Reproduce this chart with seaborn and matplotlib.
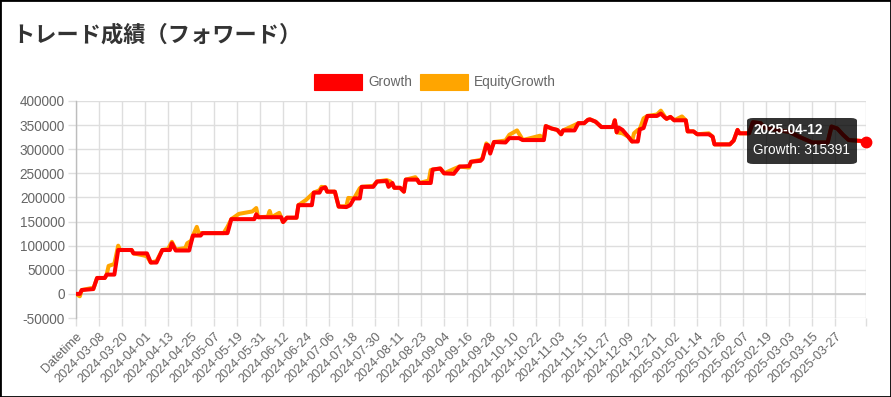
import numpy as np
import pandas as pd
import matplotlib
matplotlib.use("Agg")
import matplotlib.pyplot as plt
import seaborn as sns
from matplotlib.patches import Rectangle, FancyBboxPatch

# ---------------- data ----------------
title = "トレード成績（フォワード）"
series_names = ["Growth", "EquityGrowth"]
series_colors = ["#FF0000", "#FFA500"]

first_label = "Datetime"
day_labels = pd.date_range("2024-02-26", "2025-04-12").strftime("%Y-%m-%d").tolist()
categories = [first_label] + day_labels

growth_dates = [
    "Datetime", "2024-02-27", "2024-02-28", "2024-03-05", "2024-03-07", "2024-03-11",
    "2024-03-12", "2024-03-16", "2024-03-18", "2024-03-25", "2024-03-26", "2024-04-02",
    "2024-04-04", "2024-04-07", "2024-04-10", "2024-04-14", "2024-04-15", "2024-04-17",
    "2024-04-24", "2024-04-26", "2024-04-30", "2024-05-01", "2024-05-14", "2024-05-16",
    "2024-05-28", "2024-05-29", "2024-05-30", "2024-06-11", "2024-06-12", "2024-06-14",
    "2024-06-19", "2024-06-20", "2024-06-27", "2024-06-28", "2024-07-01", "2024-07-02",
    "2024-07-04", "2024-07-05", "2024-07-09", "2024-07-11", "2024-07-15", "2024-07-17",
    "2024-07-19", "2024-07-22", "2024-07-23", "2024-07-29", "2024-07-31", "2024-08-05",
    "2024-08-06", "2024-08-08", "2024-08-09", "2024-08-12", "2024-08-14", "2024-08-15",
    "2024-08-21", "2024-08-22", "2024-08-28", "2024-08-29", "2024-09-02", "2024-09-04",
    "2024-09-09", "2024-09-12", "2024-09-17", "2024-09-18", "2024-09-23", "2024-09-24",
    "2024-09-26", "2024-09-27", "2024-09-28", "2024-09-30", "2024-10-06", "2024-10-08",
    "2024-10-13", "2024-10-15", "2024-10-26", "2024-10-27", "2024-10-30", "2024-11-02",
    "2024-11-04", "2024-11-05", "2024-11-11", "2024-11-13", "2024-11-16", "2024-11-18",
    "2024-11-19", "2024-11-22", "2024-11-25", "2024-12-01", "2024-12-02", "2024-12-03",
    "2024-12-04", "2024-12-06", "2024-12-09", "2024-12-11", "2024-12-14", "2024-12-15",
    "2024-12-17", "2024-12-19", "2024-12-24", "2024-12-26", "2024-12-28", "2024-12-29",
    "2024-12-31", "2025-01-02", "2025-01-08", "2025-01-09", "2025-01-12", "2025-01-14",
    "2025-01-20", "2025-01-22", "2025-01-23", "2025-01-31", "2025-02-02", "2025-02-04",
    "2025-02-05", "2025-02-10", "2025-02-12", "2025-02-16", "2025-02-18", "2025-02-24",
    "2025-03-03", "2025-03-08", "2025-03-15", "2025-03-23", "2025-03-25", "2025-03-28",
    "2025-03-31", "2025-04-03", "2025-04-10", "2025-04-12",
]
growth_values = [
    0, 0, 8000, 10000, 33000, 33000,
    40000, 40000, 91000, 91000, 84000, 84000,
    65000, 65000, 91000, 91000, 105000, 90000,
    90000, 121000, 121000, 126000, 126000, 155000,
    155000, 165000, 159000, 159000, 149000, 158000,
    158000, 184000, 184000, 210000, 210000, 218000,
    221000, 212000, 212000, 181000, 180000, 184000,
    198000, 198000, 222000, 222000, 233000, 234000,
    222000, 230000, 220000, 220000, 212000, 237000,
    237000, 230000, 230000, 258000, 260000, 250000,
    249000, 264000, 265000, 274000, 276000, 280000,
    309000, 308000, 291000, 315000, 314000, 323000,
    323000, 319000, 319000, 348000, 343000, 340000,
    331000, 339000, 339000, 354000, 354000, 361000,
    362000, 357000, 346000, 346000, 360000, 335000,
    345000, 340000, 326000, 316000, 316000, 341000,
    344000, 369000, 369000, 374000, 366000, 363000,
    367000, 360000, 360000, 337000, 337000, 331000,
    331000, 326000, 310000, 310000, 318000, 340000,
    333000, 333000, 356000, 354000, 345000, 340000,
    336000, 326000, 314000, 314000, 347000, 343000,
    330000, 319000, 317000, 315391,
]

equity_dates = [
    "Datetime", "2024-02-27", "2024-02-28", "2024-03-04", "2024-03-05", "2024-03-07",
    "2024-03-11", "2024-03-12", "2024-03-13", "2024-03-16", "2024-03-18", "2024-03-19",
    "2024-03-25", "2024-03-26", "2024-03-31", "2024-04-02", "2024-04-04", "2024-04-07",
    "2024-04-10", "2024-04-13", "2024-04-15", "2024-04-17", "2024-04-22", "2024-04-23",
    "2024-04-25", "2024-04-26", "2024-04-28", "2024-04-29", "2024-05-12", "2024-05-14",
    "2024-05-16", "2024-05-20", "2024-05-27", "2024-05-29", "2024-05-30", "2024-06-04",
    "2024-06-05", "2024-06-06", "2024-06-10", "2024-06-12", "2024-06-14", "2024-06-19",
    "2024-06-20", "2024-06-24", "2024-06-28", "2024-07-01", "2024-07-02", "2024-07-04",
    "2024-07-05", "2024-07-09", "2024-07-11", "2024-07-15", "2024-07-16", "2024-07-19",
    "2024-07-22", "2024-07-23", "2024-07-29", "2024-07-31", "2024-08-05", "2024-08-07",
    "2024-08-09", "2024-08-12", "2024-08-14", "2024-08-15", "2024-08-20", "2024-08-22",
    "2024-08-27", "2024-08-28", "2024-09-02", "2024-09-04", "2024-09-09", "2024-09-12",
    "2024-09-17", "2024-09-18", "2024-09-23", "2024-09-24", "2024-09-26", "2024-09-27",
    "2024-09-28", "2024-09-30", "2024-10-06", "2024-10-08", "2024-10-12", "2024-10-14",
    "2024-10-15", "2024-10-24", "2024-10-26", "2024-10-27", "2024-10-30", "2024-11-02",
    "2024-11-04", "2024-11-05", "2024-11-11", "2024-11-13", "2024-11-16", "2024-11-18",
    "2024-11-19", "2024-11-22", "2024-11-25", "2024-12-01", "2024-12-02", "2024-12-03",
    "2024-12-06", "2024-12-09", "2024-12-11", "2024-12-12", "2024-12-14", "2024-12-15",
    "2024-12-17", "2024-12-19", "2024-12-24", "2024-12-26", "2024-12-28", "2024-12-29",
    "2024-12-31", "2025-01-02", "2025-01-06", "2025-01-08", "2025-01-09", "2025-01-12",
    "2025-01-14", "2025-01-20", "2025-01-22", "2025-01-23", "2025-01-31", "2025-02-02",
    "2025-02-04", "2025-02-05", "2025-02-10", "2025-02-12", "2025-02-16", "2025-02-18",
    "2025-02-24", "2025-03-03", "2025-03-08", "2025-03-15", "2025-03-23", "2025-03-25",
    "2025-03-28", "2025-03-31", "2025-04-03", "2025-04-10", "2025-04-12",
]
equity_values = [
    0, -5000, 8000, 12000, 10000, 33000,
    33000, 40000, 58000, 62000, 100000, 91000,
    91000, 84000, 80000, 78000, 65000, 68000,
    91000, 93000, 108000, 92000, 95000, 105000,
    110000, 121000, 139000, 126000, 126000, 139000,
    155000, 166000, 171000, 178000, 159000, 160000,
    172000, 159000, 168000, 149000, 158000, 158000,
    184000, 195000, 210000, 215000, 222000, 221000,
    212000, 212000, 181000, 182000, 199000, 198000,
    219000, 222000, 224000, 233000, 236000, 233000,
    220000, 220000, 212000, 237000, 242000, 230000,
    235000, 257000, 260000, 250000, 259000, 264000,
    262000, 274000, 278000, 282000, 312000, 308000,
    295000, 315000, 318000, 330000, 339000, 326000,
    319000, 328000, 322000, 348000, 343000, 340000,
    331000, 339000, 350000, 354000, 354000, 361000,
    362000, 357000, 346000, 346000, 360000, 335000,
    333000, 326000, 316000, 333000, 340000, 341000,
    364000, 369000, 372000, 380000, 368000, 363000,
    367000, 360000, 368000, 360000, 337000, 337000,
    331000, 333000, 326000, 310000, 310000, 318000,
    340000, 333000, 333000, 356000, 354000, 345000,
    340000, 336000, 326000, 314000, 314000, 347000,
    343000, 330000, 319000, 317000, 315391,
]

tick_labels = [
    "Datetime", "2024-03-08", "2024-03-20", "2024-04-01", "2024-04-13", "2024-04-25",
    "2024-05-07", "2024-05-19", "2024-05-31", "2024-06-12", "2024-06-24", "2024-07-06",
    "2024-07-18", "2024-07-30", "2024-08-11", "2024-08-23", "2024-09-04", "2024-09-16",
    "2024-09-28", "2024-10-10", "2024-10-22", "2024-11-03", "2024-11-15", "2024-11-27",
    "2024-12-09", "2024-12-21", "2025-01-02", "2025-01-14", "2025-01-26", "2025-02-07",
    "2025-02-19", "2025-03-03", "2025-03-15", "2025-03-27",
]
y_ticks = [-50000, 0, 50000, 100000, 150000, 200000, 250000, 300000, 350000, 400000]

tooltip_date = "2025-04-12"
tooltip_label = "Growth"
tooltip_value = 315391

# ---------------- figure ----------------
W, H = 891, 397
DPI = 100
sns.set_theme(style="white")
plt.rcParams["font.family"] = ["Liberation Sans", "Noto Sans CJK JP", "DejaVu Sans"]

fig = plt.figure(figsize=(W / DPI, H / DPI), dpi=DPI)
fig.patch.set_facecolor("white")


def fx(px):
    return px / W


def fy(py):
    return 1 - py / H


left, right, top, bottom = 76, 866, 101, 318
ax = fig.add_axes([fx(left), fy(bottom), fx(right) - fx(left), fy(top) - fy(bottom)])

pos = {c: i for i, c in enumerate(categories)}
df = pd.concat([
    pd.DataFrame({"series": "Growth", "x": [pos[d] for d in growth_dates], "value": growth_values}),
    pd.DataFrame({"series": "EquityGrowth", "x": [pos[d] for d in equity_dates], "value": equity_values}),
])
palette = dict(zip(series_names, series_colors))

sns.lineplot(data=df, x="x", y="value", hue="series", hue_order=["EquityGrowth", "Growth"],
             palette=palette, estimator=None, linewidth=2.9, legend=False, ax=ax,
             zorder=3)

last_x = len(categories) - 1
ax.set_xlim(0, last_x)
ax.set_ylim(y_ticks[0], y_ticks[-1])

xt = [pos[t] for t in tick_labels] + [last_x]
ax.set_xticks(xt)
ax.set_xticklabels(tick_labels + [""], rotation=45, ha="right", va="top",
                   rotation_mode="anchor", fontsize=9.2, color="#666666")
ax.set_yticks(y_ticks)
ax.set_yticklabels([str(v) for v in y_ticks], fontsize=9.8, color="#666666")
ax.set_xlabel("")
ax.set_ylabel("")

grid_c = "#dedede"
ax.grid(True, color=grid_c, linewidth=1.0, zorder=0)
ax.tick_params(axis="both", which="major", length=6, width=1.0, color=grid_c,
               bottom=True, left=True)
ax.tick_params(axis="x", pad=3)
ax.tick_params(axis="y", pad=2)
for s in ["top", "right", "bottom"]:
    ax.spines[s].set_visible(False)
ax.spines["left"].set_color("#bdbdbd")
ax.spines["left"].set_linewidth(1.0)
ax.axhline(0, color="#c4c4c4", linewidth=1.2, zorder=1)
ax.set_axisbelow(True)

# end point marker
ax.plot([last_x], [tooltip_value], marker="o", markersize=7.5, color="#FF0000",
        zorder=6, clip_on=False)

# tooltip box
tb = FancyBboxPatch((fx(747), fy(164)), fx(857) - fx(747), fy(118) - fy(164),
                    boxstyle="round,pad=0,rounding_size=0.007", transform=fig.transFigure,
                    facecolor=(0, 0, 0, 0.8), edgecolor="none", zorder=10)
fig.patches.append(tb)
fig.text(fx(753), fy(130), tooltip_date, fontsize=9.8, fontweight="bold", color="white",
         va="center", ha="left", zorder=11)
fig.text(fx(753), fy(150), f"{tooltip_label}: {tooltip_value}", fontsize=9.8,
         color="white", va="center", ha="left", zorder=11)

# title
fig.text(fx(12), fy(35), title, fontsize=16, fontweight="bold", color="#333333",
         va="center", ha="left", family=["Noto Sans CJK JP", "DejaVu Sans"])

# legend
leg_items = [("Growth", "#FF0000", 314, 368), ("EquityGrowth", "#FFA500", 420, 474)]
for name, col, bx, tx in leg_items:
    fig.patches.append(Rectangle((fx(bx), fy(90)), fx(48), 16 / H, transform=fig.transFigure,
                                 facecolor=col, edgecolor=col, linewidth=0.8))
    fig.text(fx(tx), fy(82), name, fontsize=9.8, color="#666666", va="center", ha="left")

# outer border
fig.patches.append(Rectangle((0, 0), 1, 1, transform=fig.transFigure, fill=False,
                             edgecolor="black", linewidth=2.0))

fig.savefig("out.png", dpi=DPI, facecolor="white")
